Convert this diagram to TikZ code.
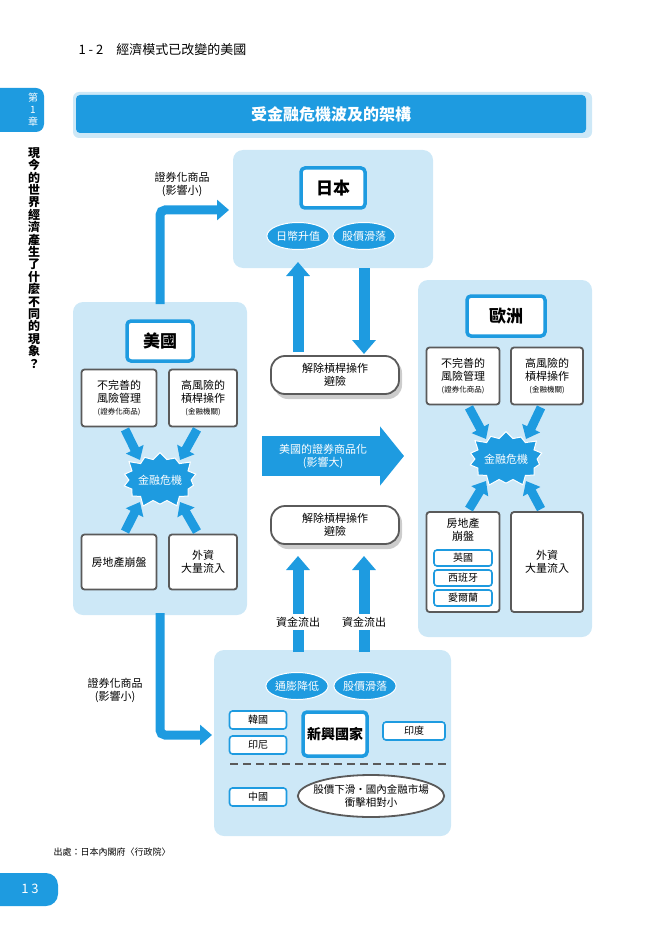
\documentclass[tikz,border=0pt]{standalone}
\usepackage{fontspec}
\setmainfont{Noto Sans CJK TC}
\usetikzlibrary{arrows.meta,shapes.geometric,shapes.symbols,calc}
\definecolor{pan}{HTML}{CDE8F7}
\definecolor{bl}{HTML}{1E9BE0}
\definecolor{gr}{HTML}{5A5A5A}
\begin{document}
\begin{tikzpicture}[x=1pt,y=-1pt,
 panel/.style={fill=pan,rounded corners=10pt,draw=none},
 wbox/.style={draw=gr,line width=1.8pt,fill=white,rounded corners=3pt,align=center,font=\fontsize{11}{13}\selectfont,inner sep=0pt},
 tbox/.style={draw=bl,line width=3.5pt,fill=white,rounded corners=4pt,font=\bfseries\fontsize{17}{19}\selectfont,inner sep=0pt},
 sbox/.style={draw=bl,line width=1.6pt,fill=white,rounded corners=3pt,font=\fontsize{10}{11}\selectfont,inner sep=0pt},
 oval/.style={ellipse,fill=bl,draw=white,line width=1pt,text=white,font=\fontsize{11}{12}\selectfont,minimum width=60pt,minimum height=27pt,inner sep=0pt},
 pill/.style={draw=gr,line width=1.8pt,fill=white,rounded corners=14pt,align=center,font=\fontsize{11}{13}\selectfont,minimum width=128pt,minimum height=38pt},
 star/.style={starburst,starburst points=14,starburst point height=9pt,fill=bl,draw=white,line width=1pt,text=white,font=\fontsize{11}{12}\selectfont,minimum width=72pt,minimum height=60pt,inner sep=0pt},
 fat/.style={bl,line width=11pt,-{Triangle[width=23pt,length=14pt]}},
 thin/.style={bl,line width=9pt,-{Triangle[width=19pt,length=12pt]}},
 lab/.style={align=center,font=\fontsize{11}{13}\selectfont}]
\useasboundingbox (0,0) rectangle (663,941);
% header
\node[anchor=west,font=\fontsize{13}{15}\selectfont] (hd) at (75,50) {1 - 2\quad 經濟模式已改變的美國};
\fill[bl,rounded corners=8pt] (-10,88) rectangle (44,132);
\node[text=white,align=center,font=\fontsize{10}{12}\selectfont] (ch) at (33,110) {第\\1\\章};
\node[align=center,font=\bfseries\fontsize{12}{12.4}\selectfont,anchor=north] (vt) at (34,144) {現\\今\\的\\世\\界\\經\\濟\\產\\生\\了\\什\\麼\\不\\同\\的\\現\\象\\？};
\fill[pan,rounded corners=6pt] (73,92) rectangle (592,138);
\node[fill=bl,rounded corners=4pt,minimum width=510pt,minimum height=38pt,text=white,font=\bfseries\fontsize{16}{18}\selectfont] (title) at (331,114) {受金融危機波及的架構};
% panels
\fill[panel] (233,150) rectangle (433,268);
\fill[panel] (73,302) rectangle (247,615);
\fill[panel] (418,280) rectangle (592,637);
\fill[panel] (214,650) rectangle (451,836);
% Japan
\node[tbox,minimum width=64pt,minimum height=40pt] (jp) at (333,188) {日本};
\node[oval] (jp1) at (298,236) {日幣升值};
\node[oval] (jp2) at (364,236) {股價滑落};
% middle
\fill[gray!40,rounded corners=14pt] (274,359) rectangle (402,399);
\fill[gray!40,rounded corners=14pt] (274,509) rectangle (402,549);
\node[pill] (p1) at (335,375) {解除槓桿操作\\避險};
\node[pill] (p2) at (335,525) {解除槓桿操作\\避險};
\coordinate (a1s) at (298,352); \coordinate (a1e) at (298,262);
\coordinate (a2s) at (364,268); \coordinate (a2e) at (364,354);
\draw[fat] (a1s) -- (a1e);
\draw[fat] (a2s) -- (a2e);
\coordinate (bs) at (262,456); \coordinate (be) at (404,456);
\draw[bl,line width=40pt,-{Triangle[width=58pt,length=24pt]}] (bs) -- (be);
\node[lab,text=white] (bl1) at (323,456) {美國的證券商品化\\(影響大)};
\coordinate (c1s) at (298,652); \coordinate (c1e) at (298,556);
\coordinate (c2s) at (364,652); \coordinate (c2e) at (364,556);
\draw[fat] (c1s) -- (c1e);
\draw[fat] (c2s) -- (c2e);
\node[lab,fill=white,inner sep=3pt] (l1) at (298,622) {資金流出};
\node[lab,fill=white,inner sep=3pt] (l2) at (364,622) {資金流出};
% USA
\node[tbox,minimum width=66pt,minimum height=40pt] (us) at (160,341) {美國};
\node[wbox,minimum width=75pt,minimum height=57pt] (u1) at (119,398) {不完善的\\風險管理\\[-1pt]{\fontsize{7.5}{8}\selectfont(證券化商品)}};
\node[wbox,minimum width=68pt,minimum height=57pt] (u2) at (203,398) {高風險的\\槓桿操作\\[-1pt]{\fontsize{7.5}{8}\selectfont(金融機關)}};
\node[wbox,minimum width=75pt,minimum height=55pt] (u3) at (119,562) {房地產崩盤};
\node[wbox,minimum width=68pt,minimum height=55pt] (u4) at (203,562) {外資\\大量流入};
\node[star] (us0) at (160,480) {金融危機};
\draw[thin] (u1.south) ++(6,2) -- ($(us0)+(-20,-20)$);
\draw[thin] (u2.south) ++(-6,2) -- ($(us0)+(20,-20)$);
\draw[thin] (u3.north) ++(6,-2) -- ($(us0)+(-20,22)$);
\draw[thin] (u4.north) ++(-6,-2) -- ($(us0)+(20,22)$);
% Europe
\node[tbox,minimum width=78pt,minimum height=40pt] (eu) at (506,316) {歐洲};
\node[wbox,minimum width=73pt,minimum height=57pt] (e1) at (463,376) {不完善的\\風險管理\\[-1pt]{\fontsize{7.5}{8}\selectfont(證券化商品)}};
\node[wbox,minimum width=72pt,minimum height=57pt] (e2) at (547,376) {高風險的\\槓桿操作\\[-1pt]{\fontsize{7.5}{8}\selectfont(金融機關)}};
\node[wbox,minimum width=73pt,minimum height=100pt] (e3) at (463,562) {};
\node[lab,anchor=north] (e3t) at (463,515) {房地產\\崩盤};
\node[sbox,minimum width=58pt,minimum height=16pt] (uk) at (463,558) {英國};
\node[sbox,minimum width=58pt,minimum height=16pt] (sp) at (463,578) {西班牙};
\node[sbox,minimum width=58pt,minimum height=16pt] (ir) at (463,598) {愛爾蘭};
\node[wbox,minimum width=72pt,minimum height=100pt] (e4) at (547,562) {外資\\大量流入};
\node[star] (eu0) at (506,459) {金融危機};
\draw[thin] (e1.south) ++(6,2) -- ($(eu0)+(-20,-20)$);
\draw[thin] (e2.south) ++(-6,2) -- ($(eu0)+(20,-20)$);
\draw[thin] (e3.north) ++(6,-2) -- ($(eu0)+(-20,22)$);
\draw[thin] (e4.north) ++(-6,-2) -- ($(eu0)+(20,22)$);
% emerging
\node[oval] (m1) at (297,686) {通膨降低};
\node[oval] (m2) at (365,686) {股價滑落};
\node[sbox,minimum width=57pt,minimum height=18pt] (kr) at (258,720) {韓國};
\node[sbox,minimum width=57pt,minimum height=18pt] (id) at (258,745) {印尼};
\node[tbox,minimum width=64pt,minimum height=44pt,font=\bfseries\fontsize{14}{16}\selectfont] (em) at (335,734) {新興國家};
\node[sbox,minimum width=62pt,minimum height=18pt] (in) at (414,731) {印度};
\coordinate (d1) at (230,764); \coordinate (d2) at (446,764);
\draw[gr,line width=1.8pt,dash pattern=on 8pt off 5pt] (d1) -- (d2);
\node[sbox,minimum width=57pt,minimum height=18pt] (cn) at (258,797) {中國};
\node[ellipse,draw=gr,line width=1.8pt,fill=white,minimum width=136pt,minimum height=42pt,inner sep=-6pt,align=center,font=\fontsize{10.5}{12.5}\selectfont] (cne) at (371,796) {股價下滑・國內金融市場\\衝擊相對小};
% side arrows
\coordinate (s1) at (160,304); \coordinate (s1b) at (160,210); \coordinate (s1e) at (229,210);
\draw[bl,line width=9pt,-{Triangle[width=20pt,length=12pt]},rounded corners=5pt] (s1) -- (s1b) -- (s1e);
\node[lab] (sl1) at (182,184) {證券化商品\\(影響小)};
\coordinate (s2) at (160,613); \coordinate (s2b) at (160,735); \coordinate (s2e) at (212,735);
\draw[bl,line width=9pt,-{Triangle[width=20pt,length=12pt]},rounded corners=5pt] (s2) -- (s2b) -- (s2e);
\node[lab] (sl2) at (115,690) {證券化商品\\(影響小)};
% footer
\node[anchor=west,font=\fontsize{9}{10}\selectfont] (src) at (50,852) {出處：日本內閣府〈行政院〉};
\fill[bl,rounded corners=12pt] (-20,873) rectangle (58,906);
\node[text=white,font=\fontsize{13}{14}\selectfont] (pg) at (30,889) {1 3};
\end{tikzpicture}
\end{document}
